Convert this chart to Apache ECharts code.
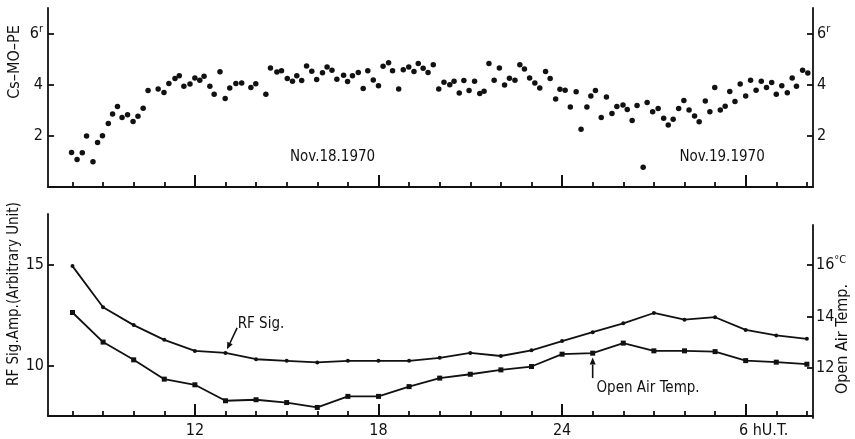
<!DOCTYPE html>
<html>
<head>
<meta charset="utf-8">
<script src="https://cdn.jsdelivr.net/npm/echarts@6/dist/echarts.min.js"></script>
<style>
  html, body { margin: 0; padding: 0; background: #fff; }
  #chart { width: 855px; height: 439px; }
</style>
</head>
<body>
<div id="chart"></div>
<script>
// Cs-MO-PE scatter (hours U.T., value)
const moHours = [7.97,8.15,8.32,8.46,8.67,8.82,8.98,9.17,9.31,9.47,9.62,9.80,9.98,10.14,10.31,10.47,10.80,10.99,11.15,11.35,11.49,11.64,11.84,12.00,12.16,12.30,12.49,12.63,12.82,12.99,13.14,13.34,
  13.53,13.83,13.99,14.32,14.47,14.68,14.83,15.02,15.19,15.33,15.49,15.65,15.82,15.98,16.17,16.32,16.48,16.64,16.86,16.99,17.15,17.34,17.50,17.65,17.83,18.00,18.15,18.33,18.46,18.66,18.81,18.99,19.16,19.30,19.46,19.62,
  19.79,19.97,20.14,20.33,20.47,20.64,20.79,20.96,21.14,21.31,21.45,21.61,21.78,21.95,22.12,22.28,22.46,22.62,22.77,22.94,23.11,23.27,23.46,23.61,23.79,23.93,24.10,24.27,24.46,24.62,24.81,24.94,25.09,25.28,25.45,25.63,25.79,
  25.99,26.13,26.29,26.45,26.65,26.78,26.96,27.14,27.32,27.47,27.63,27.81,27.98,28.15,28.33,28.48,28.68,28.83,28.99,29.17,29.33,29.48,29.65,29.82,30.00,30.16,30.34,30.51,30.68,30.85,31.00,31.18,31.36,31.52,31.66,31.86,32.03];
const moValues = [1.35,1.08,1.34,1.99,0.99,1.74,2.00,2.48,2.85,3.15,2.72,2.83,2.56,2.77,3.08,3.77,3.83,3.70,4.05,4.24,4.35,3.94,4.03,4.26,4.17,4.33,3.94,3.63,4.51,3.46,3.87,4.05,
  4.07,3.89,4.04,3.63,4.65,4.50,4.55,4.24,4.14,4.35,4.16,4.73,4.53,4.20,4.47,4.69,4.57,4.21,4.37,4.13,4.35,4.48,3.85,4.55,4.18,3.96,4.72,4.86,4.55,3.83,4.59,4.69,4.52,4.83,4.64,4.48,
  4.78,3.83,4.10,4.00,4.14,3.68,4.16,3.77,4.14,3.66,3.74,4.83,4.17,4.65,3.99,4.25,4.17,4.78,4.61,4.26,4.07,3.87,4.52,4.24,3.44,3.82,3.78,3.13,3.72,2.26,3.13,3.56,3.77,2.72,3.52,2.87,3.15,
  3.21,3.03,2.60,3.19,0.77,3.30,2.94,3.07,2.69,2.42,2.65,3.07,3.38,3.01,2.78,2.55,3.36,2.94,3.89,3.01,3.16,3.73,3.34,4.03,3.56,4.17,3.78,4.14,3.89,4.09,3.63,3.96,3.69,4.26,3.94,4.57,4.46];

// Hourly readings of RF signal amplitude and open air temperature
const sampleHours = [8,9,10,11,12,13,14,15,16,17,18,19,20,21,22,23,24,25,26,27,28,29,30,31,32];
const rfSig   = [14.92,12.88,12.00,11.27,10.72,10.62,10.31,10.23,10.15,10.23,10.23,10.23,10.38,10.62,10.47,10.75,11.21,11.65,12.09,12.60,12.27,12.39,11.76,11.49,11.32];
const airTemp = [14.15,13.00,12.31,11.56,11.34,10.72,10.76,10.65,10.46,10.89,10.89,11.27,11.60,11.75,11.92,12.05,12.53,12.57,12.96,12.66,12.66,12.63,12.28,12.22,12.14];

// Axis ticks and labels
const majorHours = [12, 18, 24, 30];
const hourLabels = ['12', '18', '24', '6 hU.T.'];
const moTicks = [2, 4, 6];
const rfTicks = [10, 15];
const tempTicks = [12, 14, 16];

const FONT = "'DejaVu Sans Condensed','Liberation Sans Narrow',sans-serif";
const INK = '#111';
const X_MIN = 7.2, X_MAX = 32.2;
const minorHours = sampleHours.filter(h => !majorHours.includes(h));

const chart = echarts.init(document.getElementById('chart'), null, { renderer: 'canvas' });

function hourAxis(grid, opts) {
  return Object.assign({
    type: 'value', gridIndex: grid, position: 'bottom', offset: 0,
    min: X_MIN, max: X_MAX,
    splitLine: { show: false },
    axisLine: { show: false },
    axisTick: { show: false },
    axisLabel: { show: false }
  }, opts);
}
const axisLineStyle = { show: true, onZero: false, lineStyle: { color: INK, width: 1.8 } };
const minorTick = { show: true, inside: true, length: 5, customValues: minorHours, lineStyle: { color: INK, width: 1.8 } };
const majorTick = { show: true, inside: true, length: 12, customValues: majorHours, lineStyle: { color: INK, width: 2 } };

const labelStyle = { color: INK, fontFamily: FONT, fontSize: 16 };
const supStyle = { s: { color: INK, fontFamily: FONT, fontSize: 11, padding: [0, 0, 9, 0] } };

function yAxisDef(grid, pos, min, max, ticks, supValue, supText, margin) {
  return {
    type: 'value', gridIndex: grid, position: pos, min: min, max: max,
    splitLine: { show: false },
    axisLine: axisLineStyle,
    axisTick: { show: true, inside: true, length: 6, customValues: ticks, lineStyle: { color: INK, width: 1.8 } },
    axisLabel: Object.assign({
      show: true, margin: margin, customValues: ticks,
      formatter: v => (v === supValue ? v + '{s|' + supText + '}' : String(v)),
      rich: supStyle
    }, labelStyle)
  };
}

const option = {
  animation: false,
  backgroundColor: '#fff',
  grid: [
    { left: 48, right: 42, top: 8, height: 179 },
    { left: 48, right: 42, top: 214, height: 204 },
    { left: 48, right: 42, top: 225, height: 193 }
  ],
  xAxis: [
    hourAxis(0, { axisLine: axisLineStyle, axisTick: minorTick }),
    hourAxis(0, { axisTick: majorTick }),
    hourAxis(1, { axisLine: axisLineStyle, axisTick: minorTick }),
    hourAxis(1, {
      axisTick: majorTick,
      axisLabel: Object.assign({
        show: true, margin: 7, customValues: majorHours,
        formatter: v => {
          const i = majorHours.indexOf(Math.round(v));
          if (i === hourLabels.length - 1) return '{pad|}' + hourLabels[i];
          return i >= 0 ? hourLabels[i] : '';
        },
        rich: { pad: { width: 36 } }
      }, labelStyle)
    }),
    hourAxis(2, {})
  ],
  yAxis: [
    yAxisDef(0, 'left', 0, 7, moTicks, 6, 'r', 5),
    yAxisDef(0, 'right', 0, 7, moTicks, 6, 'r', 4),
    yAxisDef(1, 'left', 7.5, 17.5, rfTicks, null, '', 4),
    yAxisDef(2, 'right', 10.05, 17.55, tempTicks, 16, '°C', 3)
  ],
  series: [
    {
      name: 'Cs-MO-PE', type: 'scatter', xAxisIndex: 0, yAxisIndex: 0,
      symbol: 'circle', symbolSize: 5.5,
      itemStyle: { color: INK, opacity: 1 },
      data: moHours.map((h, i) => [h, moValues[i]])
    },
    {
      name: 'RF Sig.', type: 'line', xAxisIndex: 2, yAxisIndex: 2,
      symbol: 'circle', symbolSize: 4, showAllSymbol: true,
      lineStyle: { color: INK, width: 1.8 },
      itemStyle: { color: INK },
      data: sampleHours.map((h, i) => [h, rfSig[i]])
    },
    {
      name: 'Open Air Temp.', type: 'line', xAxisIndex: 4, yAxisIndex: 3,
      symbol: 'rect', symbolSize: 5, showAllSymbol: true,
      lineStyle: { color: INK, width: 1.8 },
      itemStyle: { color: INK },
      data: sampleHours.map((h, i) => [h, airTemp[i]])
    }
  ]
};
chart.setOption(option);

// Annotations placed in data space of the respective panels
const px = (finder, pt) => chart.convertToPixel(finder, pt);
const topPanel = { xAxisIndex: 0, yAxisIndex: 0 };
const rfPanel = { xAxisIndex: 2, yAxisIndex: 2 };
const tempPanel = { xAxisIndex: 4, yAxisIndex: 3 };

function text(pos, str, extra, size) {
  return Object.assign({
    type: 'text', x: pos[0], y: pos[1],
    style: { text: str, fill: INK, font: (size || 16) + 'px ' + FONT, align: 'center', verticalAlign: 'middle' }
  }, extra || {});
}
function arrow(from, to) {
  const ang = Math.atan2(to[1] - from[1], to[0] - from[0]);
  const L = 7, W = 3;
  const bx = to[0] - L * Math.cos(ang), by = to[1] - L * Math.sin(ang);
  const nx = -Math.sin(ang) * W, ny = Math.cos(ang) * W;
  return [
    { type: 'line', shape: { x1: from[0], y1: from[1], x2: bx, y2: by }, style: { stroke: INK, lineWidth: 1.6 } },
    { type: 'polygon', shape: { points: [[to[0], to[1]], [bx + nx, by + ny], [bx - nx, by - ny]] }, style: { fill: INK } }
  ];
}

const graphics = [
  text(px(topPanel, [16.5, 1.17]), 'Nov.18.1970', null, 15),
  text(px(topPanel, [29.23, 1.17]), 'Nov.19.1970', null, 15),
  text(px(rfPanel, [14.16, 12.06]), 'RF Sig.', null, 15),
  ...arrow(px(rfPanel, [13.38, 11.86]), px(rfPanel, [13.05, 10.8])),
  text(px(tempPanel, [26.81, 11.22]), 'Open Air Temp.', null, 15),
  ...arrow(px(tempPanel, [25.0, 11.6]), px(tempPanel, [25.0, 12.4])),
  // axis titles
  text([15, 62], 'Cs\u2013MO\u2013PE', { rotation: Math.PI / 2 }),
  text([14, 294], 'RF Sig.Amp.(Arbitrary Unit)', { rotation: Math.PI / 2 }, 15),
  text([843, 339], 'Open Air Temp.', { rotation: Math.PI / 2 })
];
chart.setOption({ graphic: graphics });
</script>
</body>
</html>
